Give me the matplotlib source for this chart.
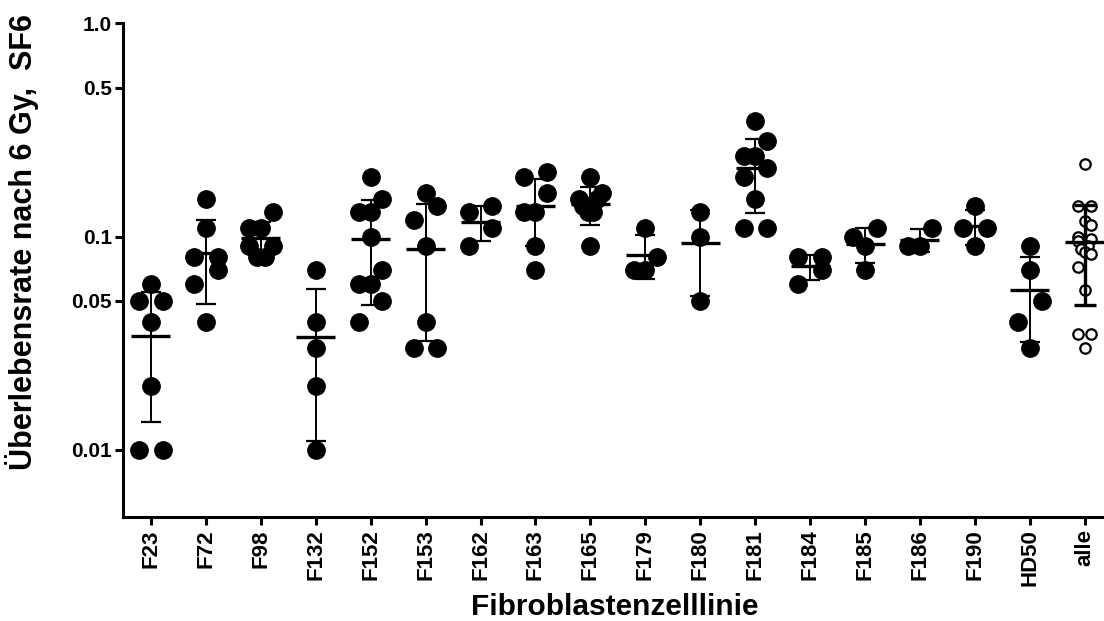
import matplotlib
matplotlib.use("Agg")
import matplotlib.pyplot as plt
import numpy as np

plt.rcParams['font.family'] = ['Liberation Sans', 'DejaVu Sans']
plt.rcParams['font.weight'] = 'bold'

# cell lines and survival fractions after 6 Gy
lines = ['F23', 'F72', 'F98', 'F132', 'F152', 'F153', 'F162', 'F163', 'F165',
         'F179', 'F180', 'F181', 'F184', 'F185', 'F186', 'F190', 'HD50', 'alle']

f23 = [0.06, 0.05, 0.05, 0.04, 0.02, 0.01, 0.01]
f72 = [0.15, 0.11, 0.08, 0.08, 0.07, 0.06, 0.04]
f98 = [0.13, 0.11, 0.11, 0.09, 0.09, 0.08, 0.08]
f132 = [0.07, 0.04, 0.03, 0.02, 0.01]
f152 = [0.19, 0.15, 0.13, 0.13, 0.10, 0.07, 0.06, 0.06, 0.05, 0.04]
f153 = [0.16, 0.14, 0.12, 0.09, 0.04, 0.03, 0.03]
f162 = [0.14, 0.13, 0.11, 0.09]
f163 = [0.20, 0.19, 0.16, 0.13, 0.13, 0.09, 0.07]
f165 = [0.19, 0.16, 0.15, 0.15, 0.14, 0.13, 0.13, 0.09]
f179 = [0.11, 0.08, 0.07, 0.07]
f180 = [0.13, 0.10, 0.05]
f181 = [0.35, 0.28, 0.24, 0.24, 0.21, 0.19, 0.15, 0.11, 0.11]
f184 = [0.08, 0.08, 0.07, 0.06]
f185 = [0.11, 0.10, 0.09, 0.07]
f186 = [0.11, 0.09, 0.09]
f190 = [0.14, 0.11, 0.11, 0.09]
hd50 = [0.09, 0.07, 0.05, 0.04, 0.03]
alle = [0.22, 0.14, 0.14, 0.118, 0.114, 0.10, 0.098, 0.095, 0.09, 0.088,
        0.085, 0.083, 0.072, 0.056, 0.035, 0.035, 0.03]

groups = [f23, f72, f98, f132, f152, f153, f162, f163, f165,
          f179, f180, f181, f184, f185, f186, f190, hd50, alle]

yticks = [0.01, 0.05, 0.1, 0.5, 1.0]
ytick_labels = ['0.01', '0.05', '0.1', '0.5', '1.0']


def swarm(vals, row_h, step):
    # group points into rows (log space) and spread each row centre-out
    vals = np.asarray(vals, dtype=float)
    logs = np.log10(vals)
    order = np.argsort(vals, kind='stable')
    rows = []
    for i in order:
        if rows and logs[i] - logs[rows[-1][0]] <= row_h:
            rows[-1].append(i)
        else:
            rows.append([i])
    off = np.zeros(len(vals))
    for row in rows:
        n = len(row)
        slots = np.linspace(-step, step, n) if n > 1 else np.array([0.0])
        slots = sorted(slots, key=lambda s: (abs(s), s))
        for i, s in zip(row, slots):
            off[i] = s
    return off


fig = plt.figure(figsize=(11.04, 6.21), dpi=100)
ax = fig.add_axes([0.1114, 0.1675, 0.8886, 0.7948])
ax.set_yscale('log')

for k, vals in enumerate(groups):
    vals = np.array(vals)
    is_all = lines[k] == 'alle'
    if is_all:
        off = swarm(vals, 0.07, 0.12)
        ax.plot(k + off, vals, 'o', ms=7.5, mfc='white', mec='black', mew=1.6, zorder=2)
        lw, cap, capw = 2.4, 8, 2.4
    else:
        off = swarm(vals, 0.0985, 0.213)
        ax.plot(k + off, vals, 'o', ms=12.5, color='black', zorder=2)
        lw, cap, capw = 1.4, 7, 1.6
    m = vals.mean()
    sd = vals.std(ddof=1)
    ax.errorbar(k, m, yerr=sd, fmt='none', ecolor='black', elinewidth=lw,
                capsize=cap, capthick=capw, zorder=3)
    ax.hlines(m, k - 0.355, k + 0.355, color='black', lw=2.4, zorder=4)

ax.set_xlim(-0.51, 17.35)
ax.set_ylim(0.00485, 1.0)
ax.set_yticks(yticks)
ax.set_yticklabels(ytick_labels)
ax.yaxis.set_minor_locator(matplotlib.ticker.NullLocator())
ax.set_xticks(range(len(lines)))
ax.set_xticklabels(lines, rotation=90)

for side in ['top', 'right']:
    ax.spines[side].set_visible(False)
for side in ['left', 'bottom']:
    ax.spines[side].set_linewidth(2.2)
ax.tick_params(axis='both', length=6, width=2.2, labelsize=15, pad=2)
ax.tick_params(axis='x', labelsize=16, pad=3)
for t in ax.get_xticklabels() + ax.get_yticklabels():
    t.set_fontweight('bold')

fig.text(22 / 1104, 1 - 242 / 621, 'Überlebensrate nach 6 Gy,  SF6', rotation=90,
         ha='center', va='center', fontsize=22, fontweight='bold')
fig.text(615 / 1104, 1 - 607 / 621, 'Fibroblastenzelllinie',
         ha='center', va='center', fontsize=21.5, fontweight='bold')

fig.savefig('out.png', dpi=100)
